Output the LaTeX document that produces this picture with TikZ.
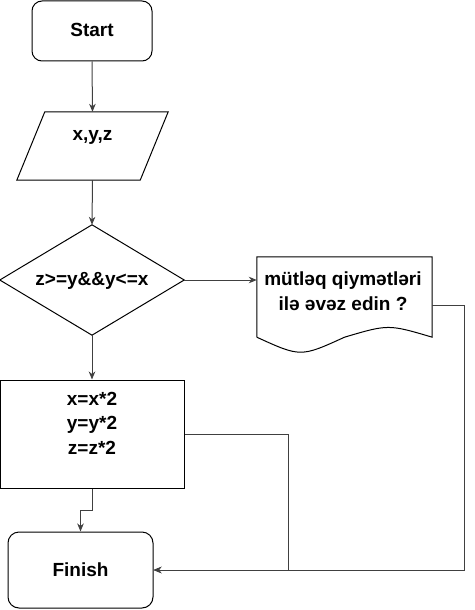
\documentclass[tikz,border=0pt]{standalone}
\usepackage{fontspec}
\setmainfont{Liberation Sans}
\usetikzlibrary{arrows.meta,calc}
\definecolor{linegray}{rgb}{0.25,0.25,0.25}

\begin{document}
\begin{tikzpicture}[x=1pt, y=-1pt,
    box/.style={draw, line width=1pt, inner sep=0pt},
    blank/.style={inner sep=0pt},
    txt/.style={font=\fontsize{19}{24.5}\selectfont\bfseries, align=center},
    flow/.style={draw=linegray, line width=1pt, -{Stealth[length=8pt,width=6.5pt,inset=2.5pt]}}]
    \useasboundingbox (0,0) rectangle (474,610);
    % shapes
    \node[box, rounded corners=10pt, minimum width=120pt, minimum height=60pt] (start) at (92,31) {};
    \node[txt] (starttxt) at (92,30) {Start};
    \node[blank, minimum width=151pt, minimum height=68pt] (inp) at (92.5,146) {};
    \draw[line width=1pt] ([xshift=28pt]inp.north west) -- (inp.north east) -- ([xshift=-28pt]inp.south east) -- (inp.south west) -- cycle;
    \node[txt] (inptxt) at (92.5,137) {x,y,z};
    \node[blank, minimum width=184pt, minimum height=110pt] (cond) at (92,280) {};
    \draw[line width=1pt] (cond.north) -- (cond.east) -- (cond.south) -- (cond.west) -- cycle;
    \node[txt] (condtxt) at (92,281) {z>=y\&\&y<=x};
    \node[blank, minimum width=175pt, minimum height=80pt] (doc) at (344.5,297) {};
    \draw[line width=1pt] (doc.south west) -- (doc.north west) -- (doc.north east) -- (doc.south east)
      .. controls ($(doc.south)!.5!(doc.south east)+(0,-13)$) .. (doc.south)
      .. controls ($(doc.south)!.5!(doc.south west)+(0,20)$) .. (doc.south west);
    \node[txt] (doctxt) at (343,291) {mütləq qiymətləri\\ilə əvəz edin ?};
    \node[box, minimum width=184pt, minimum height=108pt] (calc) at (92,434) {};
    \node[txt] (calctxt) at (92,423) {x=x*2\\y=y*2\\z=z*2};
    \node[box, rounded corners=11pt, minimum width=145pt, minimum height=76pt] (fin) at (80.5,570) {};
    \node[txt] (fintxt) at (80.5,570) {Finish};
    % connectors
    \coordinate (j1) at (288,570);
    \coordinate (j2) at (464,570);
    \draw[flow] (start.south) -- (inp.north);
    \draw[flow] (inp.south) -- (cond.north);
    \draw[flow] (cond.east) -- (cond.east -| doc.west);
    \draw[flow] (cond.south) -- (calc.north);
    \draw[flow] (calc.south) -- ++(0,22) -| (fin.north);
    \draw[flow] (calc.east) -| (j1) -- (fin.east);
    \draw[flow] ([yshift=-8pt]doc.east) -| (j2) -- (fin.east);
\end{tikzpicture}
\end{document}
